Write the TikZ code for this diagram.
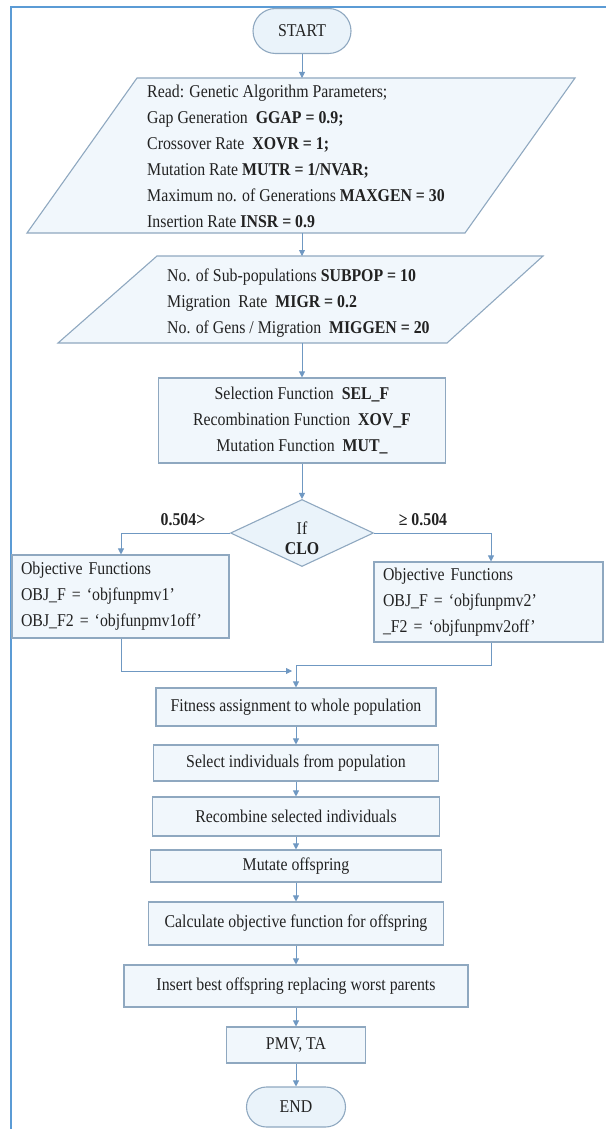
\documentclass[tikz,border=0pt]{standalone}
\usepackage{fontspec}
\setmainfont{Liberation Serif}[FakeStretch=0.88]
\usetikzlibrary{shapes.geometric,shapes.misc,arrows.meta}
\definecolor{frameblue}{HTML}{5B9BD5}
\definecolor{edgec}{HTML}{8FA8C0}
\definecolor{fillc}{HTML}{F1F7FC}
\definecolor{termfill}{HTML}{EAF3FA}
\definecolor{arrowc}{HTML}{6F98C2}
\definecolor{txtc}{HTML}{222222}
\newcommand{\myfs}{\fontsize{18}{26}\selectfont}
\newcommand{\myfsd}{\fontsize{18}{20}\selectfont}
\begin{document}
\begin{tikzpicture}[x=1pt,y=-1pt,
  every node/.style={text=txtc, font=\myfs},
  boxnode/.style={draw=edgec, fill=fillc, line width=1.1pt, rectangle, inner sep=0pt, align=center},
  termnode/.style={draw=edgec, fill=termfill, line width=1.1pt, rounded rectangle, inner sep=0pt},
  flowarrow/.style={draw=arrowc, line width=0.8pt, -{Triangle[length=6pt,width=6pt]}},
  shapeline/.style={draw=edgec, fill=fillc, line width=1.1pt, line join=miter},
]
\useasboundingbox (0,0) rectangle (606,1129);
\draw[frameblue, line width=1.6pt] (11,1129) -- (11,7) -- (606,7);

% START
\node[termnode, minimum width=98pt, minimum height=45pt] (start) at (302,31) {START};

% parameters parallelogram
\draw[shapeline] (137,78) -- (575,78) -- (465,233) -- (27,233) -- cycle;
\coordinate (p1top) at (302,78);
\coordinate (p1bot) at (302,233);
\node[anchor=north west, align=left, inner sep=0pt] (p1text) at (147,85) {Read: Genetic Algorithm Parameters;\\
Gap Generation\ \ \textbf{GGAP = 0.9;}\\
Crossover Rate\ \ \textbf{XOVR = 1;}\\
Mutation Rate \textbf{MUTR = 1/NVAR;}\\
Maximum no. of Generations \textbf{MAXGEN = 30}\\
Insertion Rate \textbf{INSR = 0.9}};

% sub-population parallelogram
\draw[shapeline] (157,256) -- (543,256) -- (447,343) -- (58,343) -- cycle;
\coordinate (p2top) at (302,256);
\coordinate (p2bot) at (302,343);
\node[anchor=north west, align=left, inner sep=0pt] (p2text) at (167,269) {No. of Sub-populations \textbf{SUBPOP = 10}\\
Migration\ \ Rate\ \ \textbf{MIGR = 0.2}\\
No. of Gens / Migration\ \ \textbf{MIGGEN = 20}};

% functions box
\node[boxnode, minimum width=287pt, minimum height=85pt] (sel) at (302,420.5) {Selection Function\ \ \textbf{SEL\_F}\\
Recombination Function\ \ \textbf{XOV\_F}\\
Mutation Function\ \ \textbf{MUT\_}};

% decision
\node[diamond, draw=edgec, fill=termfill, line width=1.1pt, minimum width=143pt, minimum height=67pt, inner sep=0pt] (dec) at (302,533) {};
\node[align=center, font=\myfsd, inner sep=0pt] (dectext) at (302,538) {If\\\textbf{CLO}};
\node[font=\myfs\bfseries] (lblL) at (183,520) {0.504>};
\node[font=\myfs\bfseries] (lblR) at (423,520) {≥ 0.504};

% objective boxes
\node[boxnode, align=left, text width=199pt, inner xsep=9pt, minimum width=217pt, minimum height=83pt] (objL) at (120.5,596.5) {Objective Functions\\
OBJ\_F = ‘objfunpmv1’\\
OBJ\_F2 = ‘objfunpmv1off’};
\node[boxnode, align=left, text width=211pt, inner xsep=9pt, minimum width=229pt, minimum height=80pt] (objR) at (488.5,602) {Objective Functions\\
OBJ\_F = ‘objfunpmv2’\\
\_F2 = ‘objfunpmv2off’};

% process chain
\node[boxnode, minimum width=280pt, minimum height=38pt] (fit) at (296,707) {Fitness assignment to whole population};
\node[boxnode, minimum width=285pt, minimum height=36pt] (selp) at (296,763) {Select individuals from population};
\node[boxnode, minimum width=287pt, minimum height=39pt] (rec) at (296,816.5) {Recombine selected individuals};
\node[boxnode, minimum width=291pt, minimum height=32pt] (mut) at (296,866) {Mutate offspring};
\node[boxnode, minimum width=295pt, minimum height=43pt] (calc) at (296,923.5) {Calculate objective function for offspring};
\node[boxnode, minimum width=344pt, minimum height=42pt] (ins) at (296,986) {Insert best offspring replacing worst parents};
\node[boxnode, minimum width=139pt, minimum height=36pt] (pmv) at (296,1045) {PMV, TA};
\node[termnode, minimum width=99pt, minimum height=40pt] (end) at (296,1107) {END};

% connectors
\draw[flowarrow] (start) -- (p1top);
\draw[flowarrow] (p1bot) -- (p2top);
\draw[flowarrow] (p2bot) -- (sel);
\draw[flowarrow] (sel) -- (dec);
\coordinate (lturn) at (121,533);
\coordinate (rturn) at (491,533);
\draw[flowarrow] (dec.west) -- (lturn) -- (lturn |- objL.north);
\draw[flowarrow] (dec.east) -- (rturn) -- (rturn |- objR.north);
\coordinate (lmerge) at (121,671);
\coordinate (lend) at (292,671);
\coordinate (rmerge) at (491,665);
\coordinate (join) at (296,665);
\draw[flowarrow] (lturn |- objL.south) -- (lmerge) -- (lend);
\draw[flowarrow] (rturn |- objR.south) -- (rmerge) -- (join) -- (fit.north);
\draw[flowarrow] (fit) -- (selp);
\draw[flowarrow] (selp) -- (rec);
\draw[flowarrow] (rec) -- (mut);
\draw[flowarrow] (mut) -- (calc);
\draw[flowarrow] (calc) -- (ins);
\draw[flowarrow] (ins) -- (pmv);
\draw[flowarrow] (pmv) -- (end);
\end{tikzpicture}
\end{document}
